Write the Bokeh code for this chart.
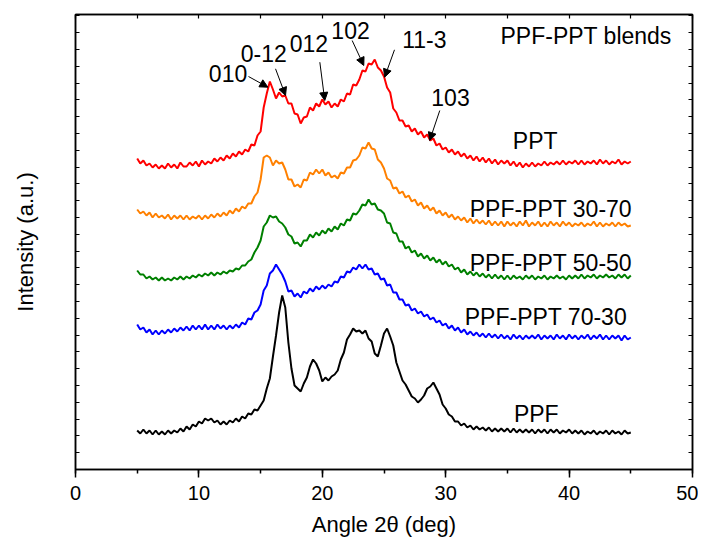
from bokeh.plotting import figure
from bokeh.models import LinearAxis, FixedTicker, SingleIntervalTicker, Label, Arrow, NormalHead
from bokeh.embed import file_html
from bokeh.resources import INLINE

# ---------------- data (offset, arbitrary units) ----------------
angle = [5 + 0.25 * i for i in range(161)]  # 2-theta scan grid, 5..45 deg

ppt = [311, 306, 309, 304, 306, 302, 305, 301,
       304, 301, 306, 302, 305, 301, 307, 303,
       303, 307, 304, 308, 303, 309, 305, 308,
       306, 311, 308, 312, 309, 314, 311, 316,
       313, 318, 315, 320, 318, 325, 324, 334,
       338, 362, 376, 388, 380, 371, 377, 373,
       374, 366, 366, 356, 355, 346, 352, 353,
       362, 359, 366, 363, 370, 365, 368, 362,
       366, 363, 370, 368, 376, 375, 385, 384,
       390, 399, 398, 406, 405, 410, 402, 399,
       393, 382, 377, 361, 357, 349, 349, 343,
       344, 338, 341, 335, 338, 332, 335, 329,
       331, 324, 326, 320, 322, 317, 320, 315,
       318, 313, 316, 311, 314, 309, 313, 308,
       312, 307, 311, 306, 310, 305, 309, 306,
       309, 304, 308, 303, 307, 302, 306, 303,
       307, 303, 306, 304, 308, 304, 307, 305,
       308, 305, 309, 305, 308, 306, 309, 305,
       309, 305, 308, 306, 309, 305, 310, 306,
       309, 305, 308, 306, 310, 305, 308, 306,
       308]

blend_30_70 = [260, 256, 258, 254, 257, 252, 256, 252,
               254, 251, 255, 250, 254, 251, 254, 250,
               254, 250, 253, 251, 254, 250, 254, 251,
               255, 252, 256, 253, 257, 254, 259, 256,
               261, 258, 263, 261, 266, 266, 273, 277,
               290, 312, 314, 312, 304, 309, 306, 307,
               300, 290, 290, 283, 285, 282, 290, 289,
               297, 295, 300, 296, 300, 294, 297, 292,
               294, 291, 297, 296, 302, 302, 309, 310,
               314, 322, 321, 327, 321, 320, 310, 307,
               301, 291, 289, 281, 282, 276, 278, 272,
               274, 268, 270, 264, 267, 261, 264, 259,
               262, 256, 259, 254, 257, 252, 255, 250,
               253, 249, 252, 247, 251, 246, 250, 246,
               249, 245, 249, 244, 248, 244, 248, 243,
               248, 244, 247, 243, 248, 244, 249, 243,
               247, 244, 248, 243, 247, 243, 248, 244,
               247, 243, 248, 244, 247, 243, 246, 244,
               247, 243, 246, 244, 248, 243, 247, 243,
               246, 244, 247, 243, 247, 244, 246, 243,
               244]

blend_50_50 = [199, 195, 195, 191, 193, 190, 192, 189,
               192, 189, 191, 189, 192, 190, 193, 190,
               193, 191, 194, 192, 195, 193, 196, 194,
               197, 194, 197, 195, 198, 196, 199, 198,
               201, 200, 204, 204, 208, 210, 217, 222,
               229, 243, 247, 254, 252, 253, 248, 246,
               242, 235, 233, 226, 227, 223, 229, 229,
               235, 232, 237, 234, 239, 236, 241, 238,
               243, 240, 246, 244, 250, 249, 256, 255,
               259, 265, 264, 270, 265, 266, 260, 259,
               256, 247, 246, 237, 236, 228, 228, 221,
               223, 217, 219, 213, 216, 211, 214, 209,
               212, 207, 210, 205, 208, 203, 205, 200,
               202, 197, 200, 195, 198, 194, 197, 193,
               196, 192, 195, 191, 195, 191, 194, 190,
               194, 190, 194, 191, 193, 190, 194, 191,
               194, 190, 193, 191, 194, 190, 193, 191,
               194, 191, 193, 190, 194, 191, 194, 191,
               195, 191, 194, 192, 195, 191, 194, 192,
               195, 192, 194, 191, 195, 192, 195, 191,
               194]

blend_70_30 = [145, 140, 142, 137, 140, 135, 139, 135,
               139, 136, 140, 137, 141, 138, 142, 139,
               143, 139, 144, 140, 144, 140, 145, 140,
               144, 140, 145, 141, 144, 140, 144, 141,
               145, 142, 147, 145, 151, 150, 157, 159,
               165, 179, 184, 196, 199, 205, 200, 195,
               188, 178, 179, 173, 176, 172, 178, 176,
               181, 178, 183, 180, 184, 181, 185, 183,
               188, 187, 193, 192, 198, 197, 202, 200,
               205, 201, 205, 200, 201, 195, 196, 190,
               191, 184, 185, 177, 177, 170, 170, 164,
               165, 159, 161, 156, 158, 153, 155, 150,
               152, 147, 149, 144, 146, 141, 144, 139,
               142, 137, 140, 135, 138, 134, 137, 133,
               136, 132, 136, 132, 135, 131, 135, 131,
               134, 130, 135, 131, 134, 130, 134, 131,
               134, 131, 135, 130, 134, 131, 134, 130,
               135, 131, 134, 130, 135, 131, 134, 130,
               134, 131, 135, 130, 134, 131, 135, 130,
               134, 130, 134, 131, 134, 129, 134, 130,
               132]

ppf = [39, 36, 40, 36, 39, 35, 39, 35,
       38, 35, 39, 36, 39, 37, 41, 38,
       43, 40, 45, 43, 48, 46, 51, 49,
       51, 47, 49, 45, 48, 45, 49, 47,
       51, 48, 53, 51, 56, 55, 60, 59,
       64, 69, 81, 91, 113, 134, 157, 174,
       162, 127, 101, 84, 81, 78, 86, 92,
       103, 110, 106, 99, 88, 92, 89, 93,
       95, 99, 110, 117, 130, 135, 141, 138,
       139, 136, 139, 131, 128, 116, 113, 124,
       136, 141, 133, 124, 107, 98, 89, 85,
       79, 73, 71, 67, 70, 74, 81, 83,
       87, 81, 75, 65, 61, 55, 53, 48,
       48, 44, 46, 42, 44, 40, 43, 40,
       42, 39, 42, 38, 41, 38, 41, 38,
       41, 37, 41, 37, 40, 37, 40, 37,
       40, 36, 40, 37, 40, 36, 40, 37,
       40, 36, 39, 37, 40, 36, 39, 36,
       39, 35, 38, 36, 39, 35, 38, 36,
       39, 35, 39, 36, 38, 35, 39, 36,
       37]

series = [ppt, blend_30_70, blend_50_50, blend_70_30, ppf]
series_names = ["PPT", "PPF-PPT 30-70", "PPF-PPT 50-50", "PPF-PPT 70-30", "PPF"]
series_colors = ["#FF0000", "#FF8000", "#008000", "#0000FF", "#000000"]

peak_labels = ["010", "0-12", "012", "102", "11-3", "103"]

x_ticks = [0, 10, 20, 30, 40, 50]
x_tick_labels = ["0", "10", "20", "30", "40", "50"]

# ---------------- layout ----------------
FONT = "Liberation Sans"

p = figure(width=698, height=539, x_range=(0, 50), y_range=(0, 455),
           output_backend="svg", toolbar_location=None,
           min_border_left=75, min_border_right=6, min_border_top=14, min_border_bottom=70,
           x_axis_label="Angle 2\u03b8 (deg)", y_axis_label="Intensity (a.u.)")
p.grid.visible = False
p.outline_line_color = "black"
p.outline_line_width = 1.5
p.background_fill_color = "white"
p.border_fill_color = "white"

for name, ys, col in zip(series_names, series, series_colors):
    p.line(angle, ys, line_color=col, line_width=2)

# bottom axis
xa = p.xaxis[0]
xa.ticker = SingleIntervalTicker(interval=10, num_minor_ticks=2)
xa.major_label_overrides = {t: s for t, s in zip(x_ticks, x_tick_labels)}
xa.major_tick_out = 8
xa.major_tick_in = 0
xa.minor_tick_out = 4
xa.minor_tick_in = 0
xa.axis_line_width = 1.5
xa.major_tick_line_width = 1.5
xa.minor_tick_line_width = 1.5
xa.major_label_text_font = FONT
xa.major_label_text_font_size = "20px"
xa.major_label_text_color = "black"
xa.major_label_standoff = 8
xa.axis_label_text_font = FONT
xa.axis_label_text_font_size = "22px"
xa.axis_label_text_font_style = "normal"
xa.axis_label_text_color = "black"
xa.axis_label_standoff = 9

y_tick_pos = [16.8 * k for k in range(1, 28)]

ya = p.yaxis[0]
ya.ticker = FixedTicker(ticks=y_tick_pos)
ya.major_tick_in = 4
ya.major_tick_out = 0
ya.minor_tick_line_color = None
ya.major_label_text_font_size = "1px"
ya.major_label_text_color = None
ya.major_label_standoff = 0
ya.axis_line_width = 1.5
ya.major_tick_line_width = 1.2
ya.axis_label_text_font = FONT
ya.axis_label_text_font_size = "22px"
ya.axis_label_text_font_style = "normal"
ya.axis_label_text_color = "black"
ya.axis_label_standoff = 38

ra = LinearAxis(ticker=FixedTicker(ticks=y_tick_pos), major_tick_in=4, major_tick_out=0,
                minor_tick_line_color=None, major_label_text_font_size="1px",
                major_label_text_color=None,
                major_label_standoff=0, axis_line_width=1.5, major_tick_line_width=1.2)
p.add_layout(ra, "right")

ta = LinearAxis(ticker=SingleIntervalTicker(interval=5, num_minor_ticks=0), major_tick_in=4,
                major_tick_out=0, minor_tick_line_color=None, major_label_text_font_size="1px",
                major_label_text_color=None,
                major_label_standoff=0, axis_line_width=1.5, major_tick_line_width=1.2)
p.add_layout(ta, "above")

# curve names
name_pos = [(37.25, 329, "center"), (45.1, 260.7, "right"), (45.1, 207, "right"),
            (44.7, 152.3, "right"), (37.34, 55.7, "center")]
for name, (lx, ly, al) in zip(series_names, name_pos):
    p.add_layout(Label(x=lx, y=ly, text=name, text_font=FONT, text_font_size="23px",
                       text_color="black", text_align=al, text_baseline="middle"))

p.add_layout(Label(x=34.44, y=434, text="PPF-PPT blends", text_font=FONT, text_font_size="23px",
                   text_color="black", text_align="left", text_baseline="middle"))

# peak labels with arrows
peak_label_pos = [(12.36, 396.5), (15.26, 415.7), (18.91, 426.5), (22.29, 439.5), (28.27, 429.8), (30.39, 372.3)]
arrow_pos = [((14.02, 393), (15.59, 382.3)),
             ((16.21, 400.7), (17.02, 374)),
             ((19.80, 407.3), (20.20, 369)),
             ((22.42, 429), (23.36, 404)),
             ((25.85, 419.7), (25.05, 392.3)),
             ((29.52, 359), (28.70, 329))]
for txt, (lx, ly), ((x0, y0), (x1, y1)) in zip(peak_labels, peak_label_pos, arrow_pos):
    p.add_layout(Label(x=lx, y=ly, text=txt, text_font=FONT, text_font_size="23px",
                       text_color="black", text_align="center", text_baseline="middle"))
    p.add_layout(Arrow(x_start=x0, y_start=y0, x_end=x1, y_end=y1, line_width=1, line_color="black",
                       end=NormalHead(size=8, fill_color="black", line_color="black")))

open("out.html", "w").write(file_html(p, INLINE))
